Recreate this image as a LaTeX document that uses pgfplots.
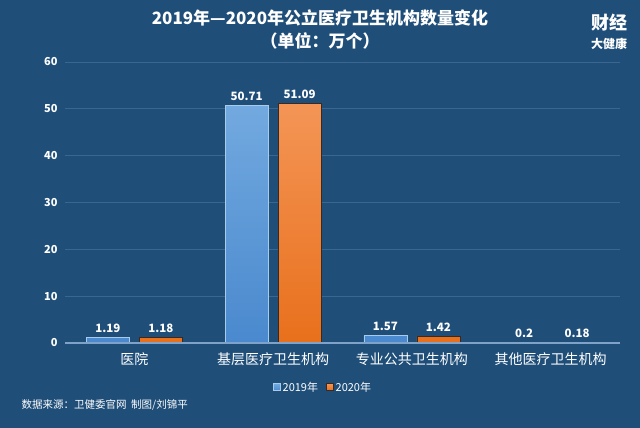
\documentclass[border=0pt]{standalone}
\usepackage{pgfplots}
\pgfplotsset{compat=1.18}
\usepackage{fontspec}
\setmainfont{Noto Sans CJK SC}

\definecolor{bg}{HTML}{1F4E79}
\definecolor{gridc}{HTML}{3A6792}
\definecolor{zeroc}{HTML}{7FA3C8}
\definecolor{bluetop}{HTML}{72A9DF}
\definecolor{bluebot}{HTML}{4A89CE}
\definecolor{blueedge}{HTML}{A9CBEB}
\definecolor{orgtop}{HTML}{F49556}
\definecolor{orgbot}{HTML}{E8701C}
\definecolor{orgedge}{HTML}{3A2A22}

\begin{document}
\begin{tikzpicture}[x=1pt,y=1pt]
\fill[bg] (0,0) rectangle (640,428);

% title
\node[text=white, font=\bfseries\fontsize{17}{20}\selectfont] at (320,410) {2019年—2020年公立医疗卫生机构数量变化};
\node[text=white, font=\bfseries\fontsize{17}{20}\selectfont] at (320,387) {（单位：万个）};

% logo
\node[text=white, font=\bfseries\fontsize{18}{20}\selectfont, inner sep=0] at (609,405) {财经};
\node[text=white, font=\bfseries\fontsize{12}{14}\selectfont, inner sep=0] at (609,384) {大健康};

\begin{axis}[
    at={(65pt,85pt)}, anchor=south west,
    scale only axis,
    width=555pt, height=281pt,
    ybar, bar width=43pt,
    xmin=-0.5, xmax=3.5,
    ymin=0, ymax=60,
    xtick={0,1,2,3},
    xticklabels={医院, 基层医疗卫生机构, 专业公共卫生机构, 其他医疗卫生机构},
    ytick={0,10,...,60},
    axis line style={draw=none},
    major tick style={draw=none},
    ymajorgrids,
    major grid style={gridc, line width=0.9pt},
    /pgf/number format/assume math mode=true,
    yticklabel style={text=white, font=\bfseries\fontsize{11}{13}\selectfont, xshift=-4pt},
    xticklabel style={text=white, font=\fontsize{14}{16}\selectfont, yshift=-2pt},
    nodes near coords,
    point meta=explicit symbolic,
    every node near coord/.append style={text=white, font=\bfseries\fontsize{11.5}{13}\selectfont, yshift=1pt},
    legend style={at={(0.465,-0.157)}, anchor=center, draw=none, fill=none,
        text=white, font=\fontsize{11}{12}\selectfont, legend columns=2,
        /tikz/every even column/.append style={column sep=6pt}},
    legend image code/.code={\fill[#1] (0pt,-3.5pt) rectangle (7pt,3.5pt);},
    clip=false,
]
\addplot[bar shift=-26.5pt, top color=bluetop, bottom color=bluebot, draw=blueedge, line width=0.6pt] coordinates {
    (0,1.19) [1.19]
    (1,50.71) [50.71]
    (2,1.57) [1.57]
    (3,0.2) [0.2]
};
\addlegendentry{2019年}
\addplot[bar shift=26.5pt, top color=orgtop, bottom color=orgbot, draw=orgedge, line width=0.6pt] coordinates {
    (0,1.18) [1.18]
    (1,51.09) [51.09]
    (2,1.42) [1.42]
    (3,0.18) [0.18]
};
\addlegendentry{2020年}
\draw[zeroc, line width=1.6pt] (axis cs:-0.5,0) -- (axis cs:3.5,0);
\end{axis}

% source note
\node[text=white, anchor=west, font=\fontsize{10.5}{12}\selectfont] at (18,23) {数据来源：卫健委官网\ \ 制图/刘锦平};

\pgfresetboundingbox
\useasboundingbox (0,0) rectangle (640,428);
\end{tikzpicture}
\end{document}
